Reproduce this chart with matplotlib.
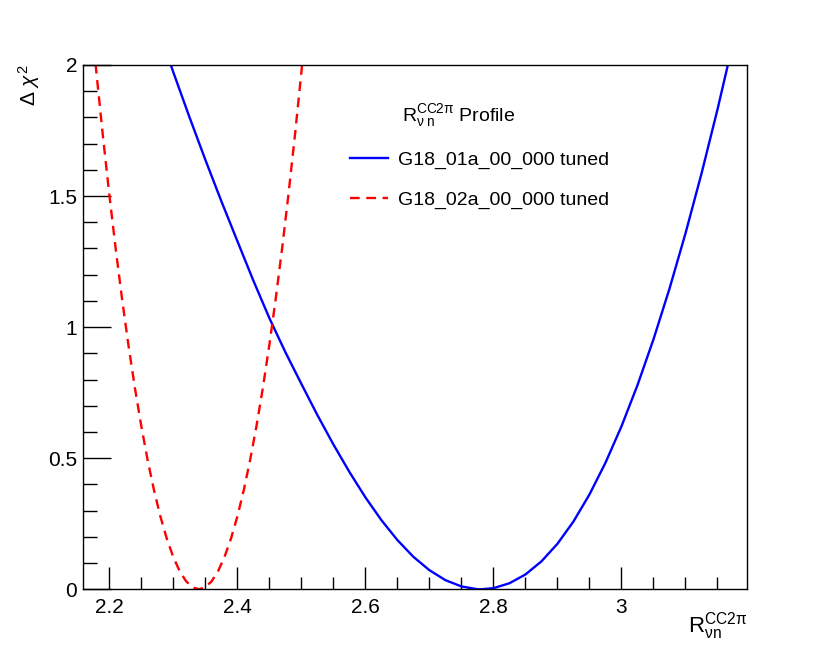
"""Delta chi2 profile scan of R_vn^CC2pi for two GENIE tunes."""

import matplotlib
matplotlib.use("Agg")
import numpy as np
from matplotlib import pyplot as plt
from matplotlib.lines import Line2D

plt.rcParams['font.family'] = ['Liberation Sans', 'DejaVu Sans']
plt.rcParams['mathtext.fontset'] = 'custom'
plt.rcParams['mathtext.rm'] = 'Liberation Sans'
plt.rcParams['mathtext.it'] = 'Liberation Sans:italic'
plt.rcParams['mathtext.bf'] = 'Liberation Sans:bold'

# G18_01a_00_000 tuned (blue, solid)
x_01a = [2.275, 2.30, 2.325, 2.35, 2.375, 2.40, 2.425, 2.45, 2.475, 2.50,
         2.525, 2.55, 2.575, 2.60, 2.625, 2.65, 2.675, 2.70, 2.725, 2.75,
         2.775, 2.78, 2.80, 2.825, 2.85, 2.875, 2.90, 2.925, 2.95, 2.975,
         3.00, 3.025, 3.05, 3.075, 3.10, 3.125, 3.15, 3.175, 3.20]
y_01a = [2.149, 1.973, 1.803, 1.639, 1.481, 1.329, 1.178, 1.035, 0.905, 0.784,
         0.665, 0.553, 0.448, 0.351, 0.264, 0.188, 0.124, 0.073, 0.035, 0.011,
         0.0004, 0.0, 0.0043, 0.023, 0.0565, 0.1065, 0.1735, 0.2585, 0.3615, 0.4825,
         0.6215, 0.7785, 0.9535, 1.1465, 1.3575, 1.5855, 1.8305, 2.0925, 2.3715]

# G18_02a_00_000 tuned (red, dashed)
x_02a = [2.16, 2.17, 2.18, 2.19, 2.20, 2.21, 2.22, 2.23, 2.24, 2.25,
         2.26, 2.27, 2.28, 2.29, 2.30, 2.31, 2.32, 2.33, 2.34, 2.35,
         2.36, 2.37, 2.38, 2.39, 2.40, 2.41, 2.42, 2.43, 2.44, 2.45,
         2.46, 2.47, 2.48, 2.49, 2.50, 2.51, 2.52]
y_02a = [2.493, 2.2239, 1.9699, 1.7314, 1.5082, 1.3005, 1.1081, 0.9311, 0.7695, 0.6233,
         0.4925, 0.3770, 0.2770, 0.1924, 0.1231, 0.0693, 0.0308, 0.0077, 0.0, 0.0077,
         0.0308, 0.0693, 0.1231, 0.1924, 0.2770, 0.3770, 0.4925, 0.6233, 0.7695, 0.9311,
         1.1081, 1.3005, 1.5082, 1.7314, 1.9699, 2.2239, 2.493]

labels = ['G18_01a_00_000 tuned', 'G18_02a_00_000 tuned']

x_ticks = [2.2, 2.4, 2.6, 2.8, 3.0]
x_tick_labels = ['2.2', '2.4', '2.6', '2.8', '3']
y_ticks = [0, 0.5, 1, 1.5, 2]
y_tick_labels = ['0', '0.5', '1', '1.5', '2']

W, H = 830, 655
fig = plt.figure(figsize=(W / 100, H / 100), dpi=100)
ax = fig.add_axes([0.0996, 0.1003, 0.8008, 0.8005])

ax.plot(x_01a, y_01a, color=(0, 0, 1), lw=1.7, solid_joinstyle='round')
ax.plot(x_02a, y_02a, color=(1, 0, 0), lw=1.7, dashes=(4.1, 2.8))

ax.set_xlim(2.1585, 3.1966)
ax.set_ylim(0, 2)

ax.set_xticks(x_ticks)
ax.set_xticklabels(x_tick_labels)
ax.set_yticks(y_ticks)
ax.set_yticklabels(y_tick_labels)
ax.set_xticks(np.arange(2.2, 3.2, 0.05), minor=True)
ax.set_yticks(np.arange(0, 2.01, 0.1), minor=True)

ax.tick_params(which='both', direction='in', width=1, colors='black',
               labelsize=15)
ax.tick_params(axis='x', which='major', length=16, pad=6)
ax.tick_params(axis='x', which='minor', length=8.5)
ax.tick_params(axis='y', which='major', length=20, pad=4)
ax.tick_params(axis='y', which='minor', length=10)
for s in ax.spines.values():
    s.set_linewidth(1)

# axis titles, ROOT style
fig.text(747.5 / W, 1 - 633 / H,
         r'$\mathrm{R}_{\mathrm{\nu n}}^{\mathrm{CC2\pi}}$',
         ha='right', va='baseline', fontsize=16)
fig.text(29 / W, 1 - 65 / H, r'$\mathrm{\Delta}\ \chi^{2}$', rotation=90,
         ha='center', va='top', fontsize=15)

# legend
fig.text(402 / W, 1 - 121 / H,
         r'$\mathrm{R}_{\mathrm{\nu\ n}}^{\mathrm{CC2\pi}}$ Profile',
         ha='left', va='baseline', fontsize=14)
handles = [Line2D([], [], color=(0, 0, 1), lw=1.7),
           Line2D([], [], color=(1, 0, 0), lw=1.7, dashes=(4.1, 2.8))]
ax.legend(handles, labels, loc='upper left',
          bbox_to_anchor=(350 / W, 1 - 151 / H), bbox_transform=fig.transFigure,
          frameon=False, fontsize=14, borderpad=0, borderaxespad=0,
          handlelength=1.95, handletextpad=0.5, labelspacing=1.14)

fig.savefig('out.png', dpi=100)
